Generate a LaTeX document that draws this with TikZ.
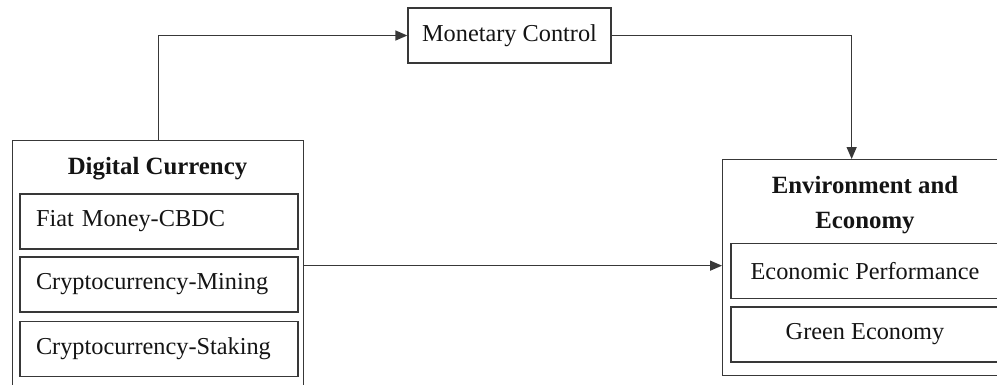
\documentclass[tikz,border=0pt]{standalone}
\usepackage{fontspec}
\setmainfont{Liberation Serif}
\usetikzlibrary{arrows.meta,calc}
\begin{document}
\begin{tikzpicture}[x=1pt,y=-1pt,
  box/.style={draw=black!78, line width=1.3pt, rectangle, inner sep=0pt},
  txt/.style={font=\fontsize{24.3}{29}\selectfont, text=black!92},
  inbox/.style={box, txt, minimum width=278pt, minimum height=55pt, text width=246pt, inner xsep=16pt, align=left},
  rinbox/.style={box, txt, minimum width=268pt, minimum height=55pt, align=center},
  ttl/.style={font=\fontsize{24.8}{35}\selectfont\bfseries, text=black!92, align=center},
  arr/.style={draw=black!78, line width=1.3pt, -{Triangle[length=12pt,width=10pt]}}
]
\useasboundingbox (0,0) rectangle (997,384);
\fill[white] (0,0) rectangle (997,384);
% Digital Currency group
\node[box, minimum width=291pt, minimum height=250pt, anchor=north west] (dc) at (12,140) {};
\node[ttl] (dct) at (157.5,169) {Digital Currency};
\node[inbox] (fiat) at (159,221.5) {Fiat Money-CBDC};
\node[inbox] (mining) at (159,284.5) {Cryptocurrency-Mining};
\node[inbox] (staking) at (159,349) {Cryptocurrency-Staking};
% Monetary Control
\node[box, txt, minimum width=203pt, minimum height=55pt] (mc) at (509.5,35.5) {Monetary Control};
% Environment and Economy group
\node[box, minimum width=286pt, minimum height=216pt, anchor=north west] (env) at (722,159) {};
\node[ttl] (envt) at (865,205) {Environment and\\Economy};
\node[rinbox] (perf) at (865,271) {Economic Performance};
\node[rinbox] (green) at (865,334.5) {Green Economy};
% Connectors
\draw[arr] (dc.north) |- (mc.west);
\draw[arr] (mc.east) -| ($(env.north)+(-14,0)$);
\draw[arr] (dc.east) -- (dc.east -| env.west);
\end{tikzpicture}
\end{document}
